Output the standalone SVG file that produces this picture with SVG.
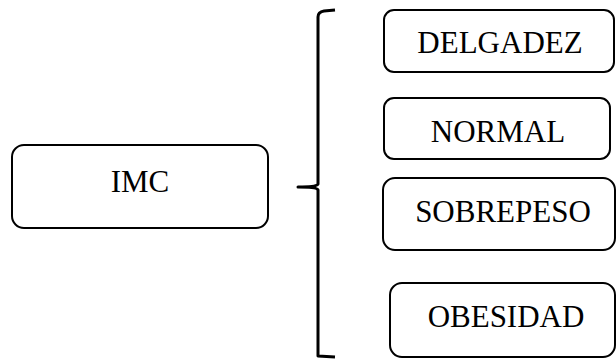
<svg xmlns="http://www.w3.org/2000/svg" width="616" height="362" viewBox="0 0 616 362">
<style>
.box{fill:#fff;stroke:#000;stroke-width:2}
.lbl{font-family:"Liberation Serif","Times New Roman",serif;font-size:31px;fill:#000;text-anchor:middle}
.brace{fill:none;stroke:#000;stroke-width:3;stroke-linejoin:round}
</style>
<rect width="616" height="362" fill="#fff"/>
<g id="connectors">
<path class="brace" d="M335,10 L324,11 Q318,12 318,17 L318,184 Q317,187 298,187 Q317,187 318,190 L318,356 L335,357"/>
</g>
<g id="imc">
<rect class="box" x="12" y="145" width="256" height="83" rx="12"/>
<text class="lbl" x="140" y="192">IMC</text>
</g>
<g id="delgadez">
<rect class="box" x="384" y="10" width="230" height="62" rx="10"/>
<text class="lbl" x="500" y="53">DELGADEZ</text>
</g>
<g id="normal">
<rect class="box" x="384" y="98" width="226" height="61" rx="10"/>
<text class="lbl" x="498" y="142">NORMAL</text>
</g>
<g id="sobrepeso">
<rect class="box" x="383" y="178" width="232" height="72" rx="12"/>
<text class="lbl" x="503" y="222">SOBREPESO</text>
</g>
<g id="obesidad">
<rect class="box" x="390" y="283" width="225" height="74" rx="12"/>
<text class="lbl" x="506" y="327">OBESIDAD</text>
</g>
</svg>
